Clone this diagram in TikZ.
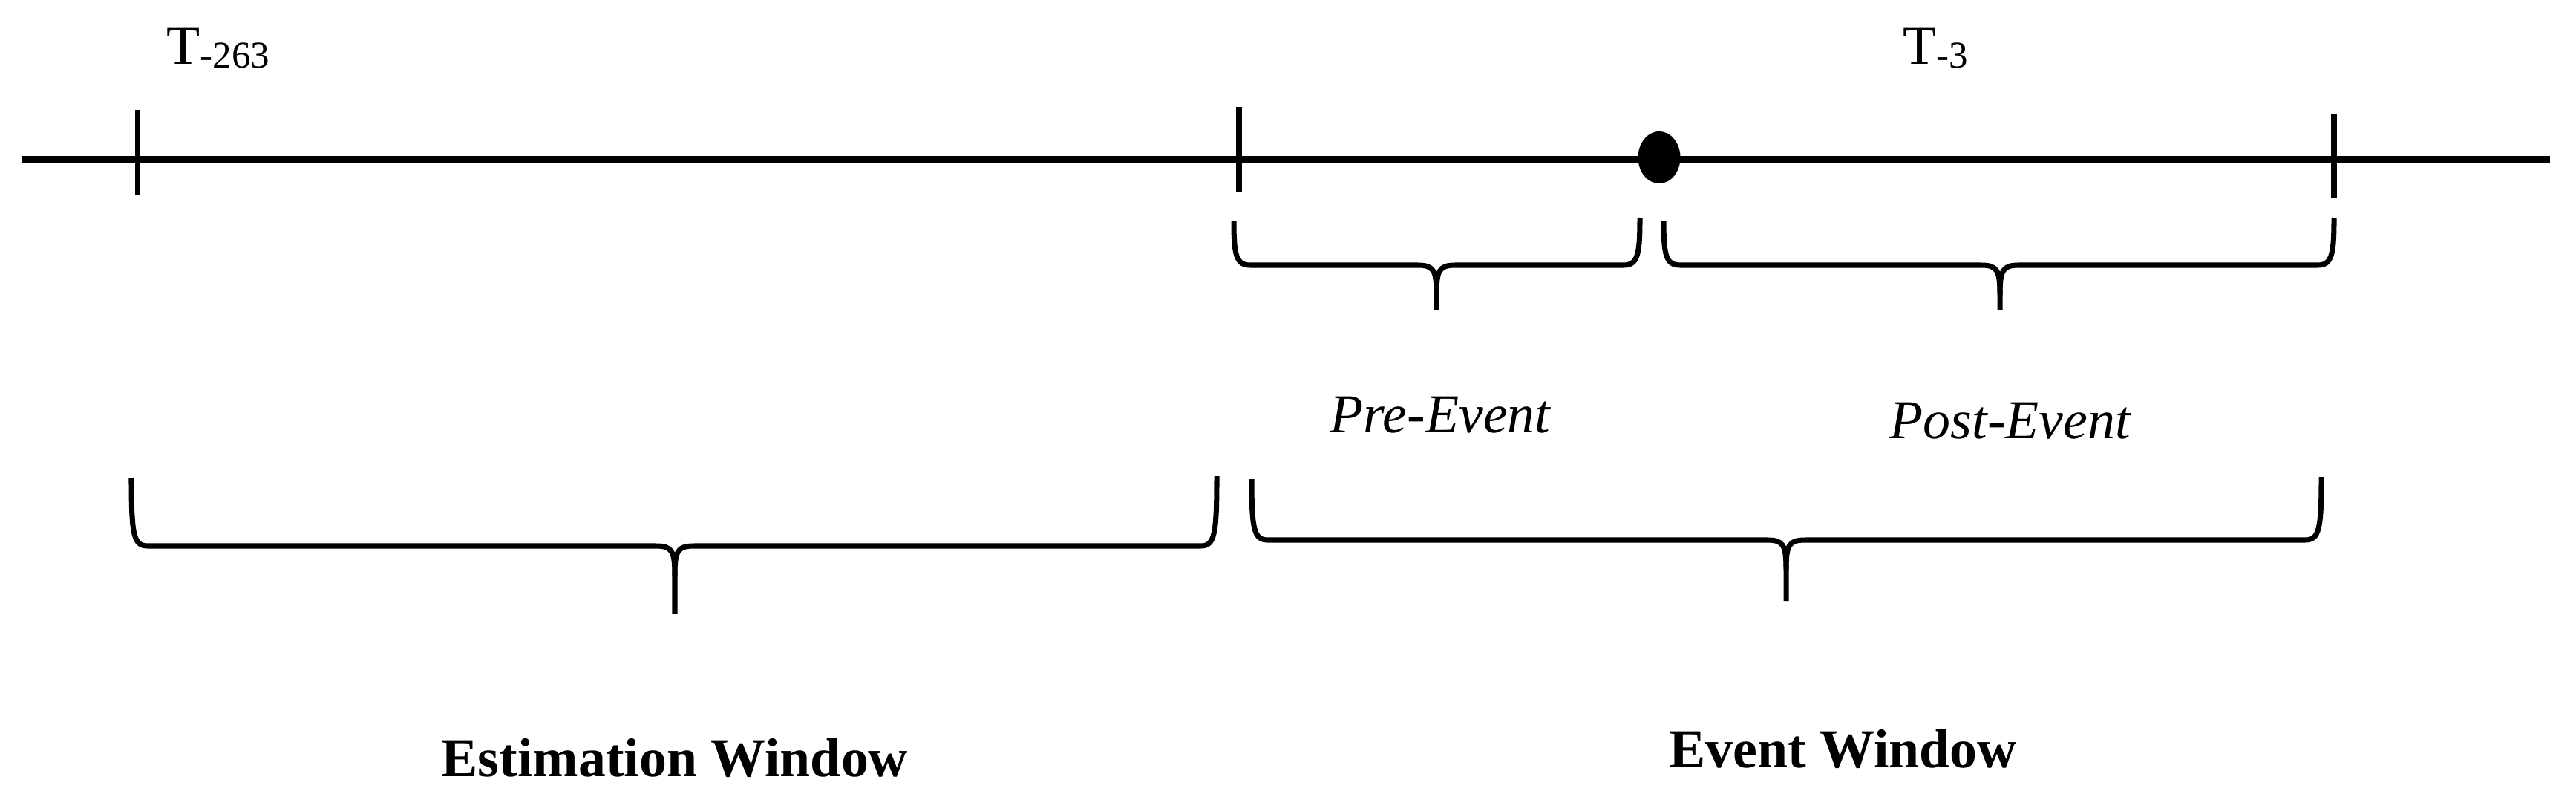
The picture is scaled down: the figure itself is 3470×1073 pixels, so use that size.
\documentclass[tikz,border=0pt]{standalone}
\usepackage{fontspec}
\setmainfont{Liberation Serif}
\usetikzlibrary{shapes.geometric}
\tikzset{
  axisline/.style={line width=2.28pt, line cap=butt},
  tickline/.style={line width=2.2pt},
  bracestyle/.style={line width=2pt, line join=round},
  lbl/.style={inner sep=0pt, font=\fontsize{21}{24}\selectfont},
}
\newcommand{\tlbrace}[7]{%
  \draw[bracestyle] (#1,#2) .. controls (#1,#5-14) and (#1+3,#5) .. (#1+22,#5) -- (#6-26,#5)
     .. controls (#6-4,#5) and (#6,#5+6) .. (#6,#5+40) -- (#6,#7);
  \draw[bracestyle] (#3,#4) .. controls (#3,#5-14) and (#3-3,#5) .. (#3-22,#5) -- (#6+26,#5)
     .. controls (#6+4,#5) and (#6,#5+6) .. (#6,#5+40);
}
\begin{document}
\begin{tikzpicture}[x=0.01cm,y=-0.01cm]
\useasboundingbox (0,0) rectangle (3470,1073);
% main time line
\coordinate (lstart) at (28.7,214.5);
\coordinate (lend) at (3435,214.5);
\draw[axisline] (lstart) -- (lend);
% ticks
\draw[tickline] (185.6,148) -- (185.6,263);
\draw[tickline] (1669,144) -- (1669,259);
\draw[tickline] (3144,153) -- (3144,267);
% event dot
\node[ellipse, fill=black, draw=none, minimum width=0.57cm, minimum height=0.70cm, inner sep=0pt] (eventdot) at (2235,212) {};
% time labels
\node[lbl, anchor=base west] (t263) at (224,87) {T\raisebox{-1.2pt}{\fontsize{14.5}{16}\selectfont -263}};
\node[lbl, anchor=base west] (t3) at (2563,87) {T\raisebox{-1.2pt}{\fontsize{14.5}{16}\selectfont -3}};
% braces
\tlbrace{1662}{298}{2209}{293}{357}{1935}{417}
\tlbrace{2241}{298}{3144}{293}{357}{2694}{417}
\tlbrace{177}{644}{1639}{641}{735}{909}{826}
\tlbrace{1686}{645}{3127}{642}{727}{2406}{809}
% labels
\node[lbl, anchor=base west, font=\fontsize{21}{24}\selectfont\itshape] (pre) at (1791,582) {Pre-Event};
\node[lbl, anchor=base west, font=\fontsize{21}{24}\selectfont\itshape] (post) at (2545,590) {Post-Event};
\node[lbl, anchor=base, font=\fontsize{21}{24}\selectfont\bfseries] (estwin) at (909,1045) {Estimation Window};
\node[lbl, anchor=base west, font=\fontsize{21}{24}\selectfont\bfseries] (evwin) at (2248,1033) {Event Window};
\end{tikzpicture}
\end{document}
